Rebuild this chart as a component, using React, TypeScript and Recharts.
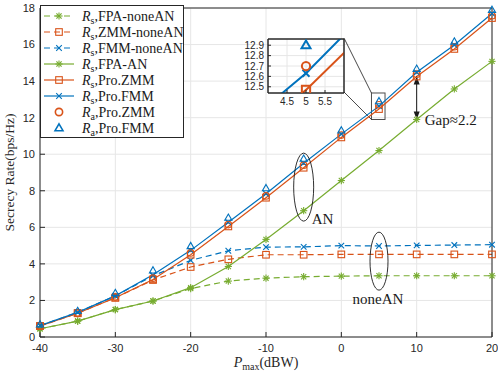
import React from 'react';
import { LineChart, Line, XAxis, YAxis, CartesianGrid, ReferenceDot, ReferenceArea, ReferenceLine } from 'recharts';

const pmax = [-40, -35, -30, -25, -20, -15, -10, -5, 0, 5, 10, 15, 20];
const rsFpaNoneAN = [0.45, 0.87, 1.5, 1.97, 2.65, 3.06, 3.22, 3.3, 3.33, 3.35, 3.35, 3.35, 3.35];
const rsZmmNoneAN = [0.6, 1.3, 2.15, 3.12, 3.83, 4.25, 4.5, 4.5, 4.52, 4.52, 4.52, 4.52, 4.52];
const rsFmmNoneAN = [0.62, 1.35, 2.25, 3.35, 4.19, 4.72, 4.92, 4.93, 5.0, 4.98, 5.01, 5.03, 5.05];
const rsFpaAN = [0.45, 0.87, 1.5, 1.97, 2.7, 3.86, 5.34, 6.91, 8.56, 10.2, 11.9, 13.57, 15.08];
const rsProZmm = [0.6, 1.3, 2.15, 3.15, 4.5, 6.05, 7.62, 9.26, 10.92, 12.47, 14.25, 15.76, 17.45];
const rsProFmm = [0.62, 1.35, 2.25, 3.4, 4.74, 6.28, 7.84, 9.51, 11.1, 12.63, 14.48, 15.98, 17.7];
const raProZmm = [0.62, 1.33, 2.2, 3.22, 4.6, 6.15, 7.72, 9.4, 11.05, 12.7, 14.38, 15.88, 17.58];
const raProFmm = [0.68, 1.42, 2.4, 3.64, 4.97, 6.52, 8.14, 9.75, 11.3, 12.9, 14.67, 16.16, 17.89];

const xTicks = [-40, -30, -20, -10, 0, 10, 20];
const yTicks = [0, 2, 4, 6, 8, 10, 12, 14, 16, 18];
const insetXTicks = [4.5, 5, 5.5];
const insetYTicks = [12.5, 12.6, 12.7, 12.8, 12.9];

const GREEN = '#77AC30';
const ORANGE = '#D95319';
const BLUE = '#0072BD';
const AXIS = '#262626';
const GRID = '#e6e6e6';

type Series = { key: string; sub: string; rest: string; color: string; dash?: string; marker: string; line: boolean };

const series: Series[] = [
  { key: 'fpaNone', sub: 's', rest: ',FPA-noneAN', color: GREEN, dash: '6 4', marker: 'star', line: true },
  { key: 'zmmNone', sub: 's', rest: ',ZMM-noneAN', color: ORANGE, dash: '6 4', marker: 'square', line: true },
  { key: 'fmmNone', sub: 's', rest: ',FMM-noneAN', color: BLUE, dash: '6 4', marker: 'x', line: true },
  { key: 'fpaAN', sub: 's', rest: ',FPA-AN', color: GREEN, marker: 'star', line: true },
  { key: 'proZmm', sub: 's', rest: ',Pro.ZMM', color: ORANGE, marker: 'square', line: true },
  { key: 'proFmm', sub: 's', rest: ',Pro.FMM', color: BLUE, marker: 'x', line: true },
  { key: 'raZmm', sub: 'a', rest: ',Pro.ZMM', color: ORANGE, marker: 'circle', line: false },
  { key: 'raFmm', sub: 'a', rest: ',Pro.FMM', color: BLUE, marker: 'triangle', line: false },
];

const rows = pmax.map((x, i) => ({
  x,
  fpaNone: rsFpaNoneAN[i],
  zmmNone: rsZmmNoneAN[i],
  fmmNone: rsFmmNoneAN[i],
  fpaAN: rsFpaAN[i],
  proZmm: rsProZmm[i],
  proFmm: rsProFmm[i],
  raZmm: raProZmm[i],
  raFmm: raProFmm[i],
}));

function Marker({ type, cx, cy, color, s = 1, sw = 1.1 }: { type: string; cx: number; cy: number; color: string; s?: number; sw?: number }) {
  if (cx == null || cy == null || isNaN(cx) || isNaN(cy)) return <g />;
  if (type === 'star') {
    const r = 3.6 * s;
    const d = r * 0.72;
    return (
      <g stroke={color} strokeWidth={sw} fill="none">
        <line x1={cx - r} y1={cy} x2={cx + r} y2={cy} />
        <line x1={cx} y1={cy - r} x2={cx} y2={cy + r} />
        <line x1={cx - d} y1={cy - d} x2={cx + d} y2={cy + d} />
        <line x1={cx - d} y1={cy + d} x2={cx + d} y2={cy - d} />
      </g>
    );
  }
  if (type === 'square') {
    const h = 3.3 * s;
    return <rect x={cx - h} y={cy - h} width={2 * h} height={2 * h} stroke={color} strokeWidth={sw} fill="none" />;
  }
  if (type === 'x') {
    const d = 2.8 * s;
    return (
      <g stroke={color} strokeWidth={sw}>
        <line x1={cx - d} y1={cy - d} x2={cx + d} y2={cy + d} />
        <line x1={cx - d} y1={cy + d} x2={cx + d} y2={cy - d} />
      </g>
    );
  }
  if (type === 'circle') {
    return <circle cx={cx} cy={cy} r={3.3 * s} stroke={color} strokeWidth={sw} fill="none" />;
  }
  const h = 3.8 * s;
  return (
    <polygon
      points={`${cx},${cy - h} ${cx + h * 0.95},${cy + h * 0.65} ${cx - h * 0.95},${cy + h * 0.65}`}
      stroke={color}
      strokeWidth={sw}
      fill="none"
      strokeLinejoin="miter"
    />
  );
}

const tickStyle = { fontSize: 11, fill: AXIS, fontFamily: '"Liberation Sans", Arial, sans-serif' };

const XLabel = (props: any) => {
  const vb = props.viewBox || {};
  const cx = vb.x + vb.width / 2;
  return (
    <text x={cx} y={367} textAnchor="middle" fontFamily='"Liberation Serif", serif' fontSize={14} fill={AXIS}>
      <tspan fontStyle="italic">P</tspan>
      <tspan fontSize={10} dy={3}>max</tspan>
      <tspan dy={-3}>(dBW)</tspan>
    </text>
  );
};

const YLabel = (props: any) => {
  const vb = props.viewBox || {};
  const cy = vb.y + vb.height / 2;
  return (
    <text x={14} y={cy} transform={`rotate(-90, 14, ${cy})`} textAnchor="middle" fontFamily='"Liberation Serif", serif' fontSize={13.5} fill={AXIS}>
      Secrecy Rate(bps/Hz)
    </text>
  );
};

const INSET_RIGHT = 344;
const INSET_TOP = 38;
const INSET_BOTTOM = 92;

function MainChart() {
  return (
    <LineChart width={498} height={374} data={rows} margin={{ top: 0, right: 0, left: 0, bottom: 0 }}>
      <CartesianGrid xAxisId="b" yAxisId="l" stroke={GRID} strokeWidth={1} horizontalValues={yTicks} verticalValues={xTicks} />
      <XAxis
        xAxisId="b"
        dataKey="x"
        type="number"
        domain={[-40, 20]}
        ticks={xTicks}
        interval={0}
        height={37}
        stroke={AXIS}
        tick={tickStyle}
        tickSize={-5}
        tickMargin={12}
        label={<XLabel />}
      />
      <XAxis xAxisId="t" orientation="top" dataKey="x" type="number" domain={[-40, 20]} ticks={xTicks} interval={0} height={8} stroke={AXIS} tick={false} tickSize={-5} />
      <YAxis
        yAxisId="l"
        type="number"
        domain={[0, 18]}
        ticks={yTicks}
        interval={0}
        width={40}
        stroke={AXIS}
        tick={tickStyle}
        tickSize={-5}
        tickMargin={10}
        label={<YLabel />}
      />
      <YAxis yAxisId="r" orientation="right" type="number" domain={[0, 18]} ticks={yTicks} interval={0} width={6} stroke={AXIS} tick={false} tickSize={-5} />

      {series.map((s) => (
        <Line
          key={s.key}
          xAxisId="b"
          yAxisId="l"
          dataKey={s.key}
          type="linear"
          stroke={s.line ? s.color : 'none'}
          strokeWidth={1.2}
          strokeDasharray={s.dash}
          isAnimationActive={false}
          dot={(p: any) => <Marker key={`${s.key}-${p.index}`} type={s.marker} cx={p.cx} cy={p.cy} color={s.color} />}
          activeDot={false}
        />
      ))}

      <ReferenceDot
        xAxisId="b"
        yAxisId="l"
        x={-5}
        y={8.2}
        r={0}
        shape={(p: any) => (
          <g>
            <ellipse cx={p.cx} cy={p.cy} rx={10} ry={34} stroke="#1a1a1a" strokeWidth={0.9} fill="none" />
            <text x={p.cx + 8} y={p.cy + 37} fontFamily='"Liberation Serif", serif' fontSize={15} fill="#1a1a1a">AN</text>
          </g>
        )}
      />
      <ReferenceDot
        xAxisId="b"
        yAxisId="l"
        x={5}
        y={4.15}
        r={0}
        shape={(p: any) => (
          <g>
            <ellipse cx={p.cx} cy={p.cy} rx={9} ry={29} stroke="#1a1a1a" strokeWidth={0.9} fill="none" />
            <text x={p.cx - 1} y={p.cy + 43} textAnchor="middle" fontFamily='"Liberation Serif", serif' fontSize={15} fill="#1a1a1a">noneAN</text>
          </g>
        )}
      />
      <ReferenceLine
        xAxisId="b"
        yAxisId="l"
        segment={[{ x: 10, y: 14.25 }, { x: 10, y: 11.9 }]}
        shape={(p: any) => {
          const x = p.x1;
          const yTop = Math.min(p.y1, p.y2);
          const yBot = Math.max(p.y1, p.y2);
          return (
            <g>
              <line x1={x} y1={yTop} x2={x} y2={yBot} stroke="#1a1a1a" strokeWidth={1} />
              <polygon points={`${x},${yTop} ${x - 3},${yTop + 8} ${x + 3},${yTop + 8}`} fill="#1a1a1a" />
              <polygon points={`${x},${yBot} ${x - 3},${yBot - 8} ${x + 3},${yBot - 8}`} fill="#1a1a1a" />
              <text x={x + 8} y={yBot + 6} fontFamily='"Liberation Serif", serif' fontSize={15} fill="#1a1a1a">Gap≈2.2</text>
            </g>
          );
        }}
      />
      <ReferenceArea
        xAxisId="b"
        yAxisId="l"
        x1={4}
        x2={5.8}
        y1={11.9}
        y2={13.35}
        shape={(p: any) => (
          <g>
            <rect x={p.x} y={p.y} width={p.width} height={p.height} stroke="#4d4d4d" strokeWidth={1} fill="none" />
            <line x1={p.x} y1={p.y} x2={INSET_RIGHT} y2={INSET_TOP} stroke="#1a1a1a" strokeWidth={0.8} />
            <line x1={p.x} y1={p.y + p.height} x2={INSET_RIGHT} y2={INSET_BOTTOM} stroke="#1a1a1a" strokeWidth={0.8} />
          </g>
        )}
      />
    </LineChart>
  );
}

const insetTick = { fontSize: 10, fill: AXIS, fontFamily: '"Liberation Sans", Arial, sans-serif' };
const insetSeries = series.filter((s) => ['proZmm', 'proFmm', 'raZmm', 'raFmm'].includes(s.key));

function InsetChart() {
  return (
    <LineChart width={110} height={76} data={rows} margin={{ top: 1, right: 3, left: 0, bottom: 0 }}>
      <CartesianGrid xAxisId="b" yAxisId="l" stroke={GRID} fill="#ffffff" fillOpacity={1} horizontalValues={insetYTicks} verticalValues={insetXTicks} />
      <XAxis xAxisId="b" dataKey="x" type="number" domain={[4, 6]} allowDataOverflow ticks={insetXTicks} interval={0} height={20} stroke={AXIS} tick={insetTick} tickSize={-3} tickMargin={8} />
      <XAxis xAxisId="t" orientation="top" dataKey="x" type="number" domain={[4, 6]} allowDataOverflow ticks={insetXTicks} interval={0} height={1} stroke={AXIS} tick={false} tickSize={-3} />
      <YAxis yAxisId="l" type="number" domain={[12.44, 12.96]} allowDataOverflow ticks={insetYTicks} interval={0} width={30} stroke={AXIS} tick={insetTick} tickSize={-3} tickMargin={7} />
      <YAxis yAxisId="r" orientation="right" type="number" domain={[12.44, 12.96]} allowDataOverflow ticks={insetYTicks} interval={0} width={1} stroke={AXIS} tick={false} tickSize={-3} />
      <ReferenceArea xAxisId="b" yAxisId="l" x1={4} x2={6} y1={12.44} y2={12.96} stroke={AXIS} strokeWidth={1} fill="none" fillOpacity={0} ifOverflow="visible" />
      {insetSeries.map((s) => (
        <Line
          key={s.key}
          xAxisId="b"
          yAxisId="l"
          dataKey={s.key}
          type="linear"
          stroke={s.line ? s.color : 'none'}
          strokeWidth={2}
          isAnimationActive={false}
          dot={(p: any) =>
            p.payload && p.payload.x === 5 ? (
              <Marker key={`i-${s.key}-${p.index}`} type={s.marker} cx={p.cx} cy={p.cy} color={s.color} s={1.25} sw={2} />
            ) : (
              <g key={`i-${s.key}-${p.index}`} />
            )
          }
          activeDot={false}
        />
      ))}
    </LineChart>
  );
}

function LegendBox() {
  const rowH = 16;
  return (
    <svg width={144} height={134} style={{ position: 'absolute', left: 40, top: 5 }}>
      <rect x={0.5} y={0.5} width={143} height={132} fill="#ffffff" stroke={AXIS} strokeWidth={1} />
      {series.map((s, i) => {
        const y = 11 + i * rowH;
        return (
          <g key={s.key}>
            {s.line && <line x1={4} y1={y} x2={34} y2={y} stroke={s.color} strokeWidth={1.2} strokeDasharray={s.dash} />}
            <Marker type={s.marker} cx={19} cy={y} color={s.color} s={s.line ? 1 : 1.1} sw={s.line ? 1.1 : 1.6} />
            <text x={42} y={y + 5} fontFamily='"Liberation Serif", serif' fontSize={14} fill="#1a1a1a">
              <tspan fontStyle="italic">R</tspan>
              <tspan fontSize={10} dy={3}>{s.sub}</tspan>
              <tspan dy={-3}>{s.rest}</tspan>
            </text>
          </g>
        );
      })}
    </svg>
  );
}

export default function App() {
  return (
    <div style={{ position: 'absolute', left: 0, top: 0, width: 498, height: 374, background: '#ffffff' }}>
      <MainChart />
      <div style={{ position: 'absolute', left: 238, top: 37 }}>
        <InsetChart />
      </div>
      <LegendBox />
    </div>
  );
}
